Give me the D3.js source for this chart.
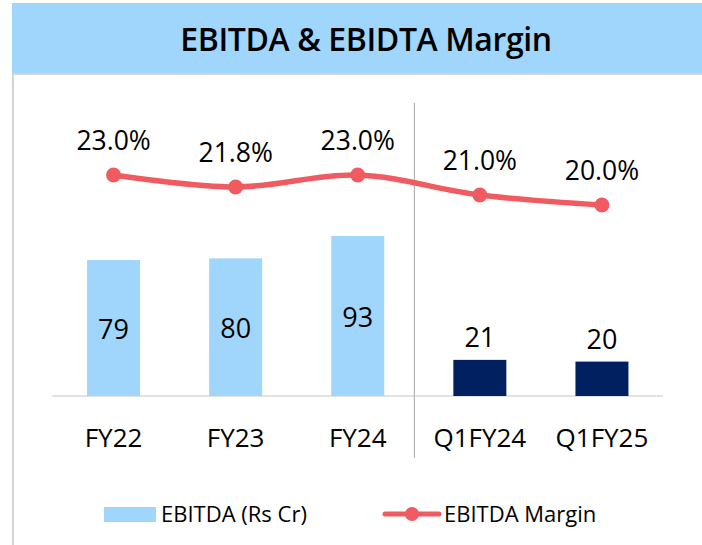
<!DOCTYPE html>
<html>
<head>
<meta charset="utf-8">
<script src="https://cdn.jsdelivr.net/npm/d3@7"></script>
<style>
  body { margin: 0; background: #fff; }
  svg { display: block; font-family: "Open Sans", "Noto Sans", sans-serif; }
</style>
</head>
<body>
<svg id="chart" width="702" height="545"></svg>
<script>
var categories = ['FY22', 'FY23', 'FY24', 'Q1FY24', 'Q1FY25']
var ebitda = [79, 80, 93, 21, 20]
var margin = [23.0, 21.8, 23.0, 21.0, 20.0]
var marginLabels = ['23.0%', '21.8%', '23.0%', '21.0%', '20.0%']
var annual = [true, true, true, false, false]

var svg = d3.select('#chart')

// header band
svg.append('rect').attr('x', 12).attr('y', 3).attr('width', 690).attr('height', 70).attr('fill', '#a0d6fc')
svg.append('line').attr('x1', 12).attr('x2', 702).attr('y1', 74).attr('y2', 74)
  .attr('stroke', '#d4d4d4').attr('stroke-width', 2)
svg.append('line').attr('x1', 13).attr('x2', 13).attr('y1', 74).attr('y2', 545)
  .attr('stroke', '#d4d4d4').attr('stroke-width', 2)
svg.append('text').attr('x', 366).attr('y', 51).attr('text-anchor', 'middle')
  .attr('font-size', 32).attr('font-weight', 600).attr('letter-spacing', -0.4).attr('fill', '#000')
  .text('EBITDA & EBIDTA Margin')

var x = d3.scaleBand().domain(categories).range([52.5, 663]).paddingInner(0.566).paddingOuter(0.283)
var baseY = 396
var y = d3.scaleLinear().domain([0, 93]).range([baseY, 236])
var ym = d3.scaleLinear().domain([20, 23]).range([205, 175])

// baseline
svg.append('line').attr('x1', 52).attr('x2', 663).attr('y1', baseY).attr('y2', baseY)
  .attr('stroke', '#d9d9d9').attr('stroke-width', 1.5)

// divider between annual and quarterly
var divX = x('Q1FY24') - 39
svg.append('line').attr('x1', divX).attr('x2', divX).attr('y1', 103).attr('y2', 458)
  .attr('stroke', '#a6a6a6').attr('stroke-width', 1)

svg.selectAll('rect.bar').data(categories).enter().append('rect')
  .attr('class', 'bar')
  .attr('x', function(d){return x(d)})
  .attr('width', x.bandwidth())
  .attr('y', function(d, i){return y(ebitda[i])})
  .attr('height', function(d, i){return baseY - y(ebitda[i])})
  .attr('fill', function(d, i){return annual[i] ? '#a0d6fc' : '#002060'})

svg.selectAll('text.barlabel').data(categories).enter().append('text')
  .attr('class', 'barlabel')
  .attr('x', function(d){return x(d) + x.bandwidth() / 2})
  .attr('y', function(d, i){
    return annual[i] ? (y(ebitda[i]) + baseY) / 2 + 11 : y(ebitda[i]) - 13
  })
  .attr('text-anchor', 'middle').attr('font-size', 27).attr('fill', '#000')
  .text(function(d, i){return ebitda[i]})

// margin line
var pts = categories.map(function(d, i){return [x(d) + x.bandwidth() / 2, ym(margin[i])]})
svg.append('path').attr('d', d3.line().curve(d3.curveCatmullRom.alpha(0.5))(pts))
  .attr('fill', 'none').attr('stroke', '#ef5b61').attr('stroke-width', 5.5)
svg.selectAll('circle.dot').data(pts).enter().append('circle')
  .attr('cx', function(d){return d[0]}).attr('cy', function(d){return d[1]})
  .attr('r', 7.5).attr('fill', '#ef5b61')
svg.selectAll('text.mlabel').data(pts).enter().append('text')
  .attr('x', function(d){return d[0]}).attr('y', function(d){return d[1] - 25})
  .attr('text-anchor', 'middle').attr('font-size', 26.5).attr('fill', '#000')
  .text(function(d, i){return marginLabels[i]})

// x axis labels
svg.selectAll('text.cat').data(categories).enter().append('text')
  .attr('x', function(d){return x(d) + x.bandwidth() / 2}).attr('y', 447)
  .attr('text-anchor', 'middle').attr('font-size', 26).attr('fill', '#000')
  .text(function(d){return d})

// legend
var lg = svg.append('g')
lg.append('rect').attr('x', 104).attr('y', 507).attr('width', 52).attr('height', 15).attr('fill', '#a0d6fc')
lg.append('text').attr('x', 161).attr('y', 522).attr('font-size', 22).attr('fill', '#000').text('EBITDA (Rs Cr)')
lg.append('line').attr('x1', 385).attr('x2', 439).attr('y1', 514).attr('y2', 514)
  .attr('stroke', '#ef5b61').attr('stroke-width', 5).attr('stroke-linecap', 'round')
lg.append('circle').attr('cx', 412).attr('cy', 514).attr('r', 7).attr('fill', '#ef5b61')
lg.append('text').attr('x', 444).attr('y', 522).attr('font-size', 22).attr('fill', '#000').text('EBITDA Margin')
</script>
</body>
</html>
